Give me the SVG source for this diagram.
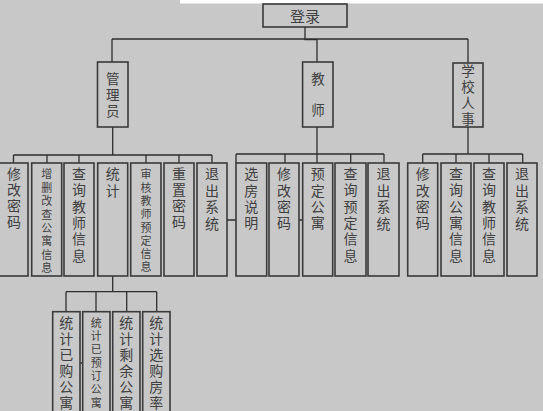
<svg xmlns="http://www.w3.org/2000/svg" width="543" height="411" viewBox="0 0 543 411">
<style>
.bg{fill:#c8c8c8}
.box{fill:#c8c8c8;stroke:#3a3a3a;stroke-width:1.6}
.ln{fill:none;stroke:#2e2e2e;stroke-width:1.3}
text{font-family:"Noto Sans CJK SC","Noto Sans CJK JP",sans-serif;fill:#404040;text-anchor:middle;dominant-baseline:central}
.f14{font-size:13.5px}
.f15{font-size:14px}
.f12{font-size:11px}
</style>
<rect class="bg" x="0" y="0" width="543" height="411"/>
<rect x="180" y="0" width="363" height="3.5" fill="#ffffff"/>
<g id="connectors">
<path class="ln" d="M305 27 V39.5 H317 M112 39 H468 M112 39 V62 M317 39 V62 M468 39 V63"/>
<path class="ln" d="M112.7 127 V155 M13.5 155 H212 M13.5 155 V163 M47 155 V163 M79 155 V163 M146 155 V163 M179 155 V163 M212 155 V163"/>
<path class="ln" d="M317 127 V154 M236 154 H384 M236 154 V163 M285 154 V163 M317 154 V163 M350.7 154 V163 M384 154 V163"/>
<path class="ln" d="M468 127 V154 M422.7 154 H522.7 M422.7 154 V163 M456 154 V163 M489 154 V163 M522.7 154 V163"/>
<path class="ln" d="M227 220 H237 M299 220 H303"/>
<path class="ln" d="M112.7 276 V291.7 M66 291.7 H156.7 M66 291.7 V311.7 M96 291.7 V311.7 M126.7 291.7 V311.7 M156.7 291.7 V311.7 M80 363 H83"/>
</g>
<g id="login"><rect class="box" x="263" y="4" width="84" height="23"/><text class="f15" style="font-size:15px" x="305" y="15.5">登录</text></g>
<g id="admin"><rect class="box" x="97.5" y="62" width="30.5" height="65"/><text class="f14"><tspan x="112.8" y="78">管</tspan><tspan x="112.8" y="94">理</tspan><tspan x="112.8" y="109.5">员</tspan></text></g>
<g id="teacher"><rect class="box" x="302.6" y="62" width="30.4" height="65"/><text class="f14"><tspan x="318" y="78">教</tspan><tspan x="318" y="109">师</tspan></text></g>
<g id="school"><rect class="box" x="453" y="63" width="30" height="64"/><text class="f14"><tspan x="468" y="70">学</tspan><tspan x="468" y="86">校</tspan><tspan x="468" y="102">人</tspan><tspan x="468" y="117.5">事</tspan></text></g>

<g id="a1"><rect class="box" x="-1" y="163" width="29" height="113"/><text class="f15"><tspan x="14" y="173">修</tspan><tspan x="14" y="189">改</tspan><tspan x="14" y="205">密</tspan><tspan x="14" y="221">码</tspan></text></g>
<g id="a2"><rect class="box" x="31.7" y="163" width="30" height="113"/><text class="f12"><tspan x="46.7" y="173.3">增</tspan><tspan x="46.7" y="186.7">删</tspan><tspan x="46.7" y="200.1">改</tspan><tspan x="46.7" y="213.5">查</tspan><tspan x="46.7" y="226.9">公</tspan><tspan x="46.7" y="240.3">寓</tspan><tspan x="46.7" y="253.7">信</tspan><tspan x="46.7" y="267">息</tspan></text></g>
<g id="a3"><rect class="box" x="64" y="163" width="30" height="113"/><text class="f15"><tspan x="79" y="173">查</tspan><tspan x="79" y="189.3">询</tspan><tspan x="79" y="205.6">教</tspan><tspan x="79" y="221.9">师</tspan><tspan x="79" y="238.2">信</tspan><tspan x="79" y="254.5">息</tspan></text></g>
<g id="a4"><rect class="box" x="97.7" y="163" width="30" height="113"/><text class="f15"><tspan x="112.7" y="173">统</tspan><tspan x="112.7" y="190">计</tspan></text></g>
<g id="a5"><rect class="box" x="130.7" y="163" width="30.3" height="113"/><text class="f12"><tspan x="146" y="173.3">审</tspan><tspan x="146" y="186.6">核</tspan><tspan x="146" y="199.9">教</tspan><tspan x="146" y="213.2">师</tspan><tspan x="146" y="226.5">预</tspan><tspan x="146" y="239.8">定</tspan><tspan x="146" y="253.1">信</tspan><tspan x="146" y="266.4">息</tspan></text></g>
<g id="a6"><rect class="box" x="164" y="163" width="30" height="113"/><text class="f15"><tspan x="179" y="173">重</tspan><tspan x="179" y="189">置</tspan><tspan x="179" y="205">密</tspan><tspan x="179" y="221">码</tspan></text></g>
<g id="a7"><rect class="box" x="197" y="163" width="30" height="113"/><text class="f15"><tspan x="212" y="173">退</tspan><tspan x="212" y="189.5">出</tspan><tspan x="212" y="206">系</tspan><tspan x="212" y="222.5">统</tspan></text></g>

<g id="t1"><rect class="box" x="236" y="163" width="30.7" height="113"/><text class="f15"><tspan x="251.3" y="173">选</tspan><tspan x="251.3" y="189.5">房</tspan><tspan x="251.3" y="206">说</tspan><tspan x="251.3" y="222">明</tspan></text></g>
<g id="t2"><rect class="box" x="269" y="163" width="30" height="113"/><text class="f15"><tspan x="284" y="173">修</tspan><tspan x="284" y="189.5">改</tspan><tspan x="284" y="206">密</tspan><tspan x="284" y="222">码</tspan></text></g>
<g id="t3"><rect class="box" x="302.7" y="163" width="30" height="113"/><text class="f15"><tspan x="317.7" y="173">预</tspan><tspan x="317.7" y="189.5">定</tspan><tspan x="317.7" y="206">公</tspan><tspan x="317.7" y="222">寓</tspan></text></g>
<g id="t4"><rect class="box" x="335" y="163" width="31" height="113"/><text class="f15"><tspan x="350.5" y="173">查</tspan><tspan x="350.5" y="189.3">询</tspan><tspan x="350.5" y="205.6">预</tspan><tspan x="350.5" y="221.9">定</tspan><tspan x="350.5" y="238.2">信</tspan><tspan x="350.5" y="254.5">息</tspan></text></g>
<g id="t5"><rect class="box" x="368" y="163" width="31" height="113"/><text class="f15"><tspan x="383.5" y="173">退</tspan><tspan x="383.5" y="189.5">出</tspan><tspan x="383.5" y="206">系</tspan><tspan x="383.5" y="222.5">统</tspan></text></g>

<g id="s1"><rect class="box" x="407.7" y="163" width="30" height="113"/><text class="f15"><tspan x="422.7" y="173">修</tspan><tspan x="422.7" y="189.5">改</tspan><tspan x="422.7" y="206">密</tspan><tspan x="422.7" y="222">码</tspan></text></g>
<g id="s2"><rect class="box" x="441" y="163" width="30" height="113"/><text class="f15"><tspan x="456" y="173">查</tspan><tspan x="456" y="189.3">询</tspan><tspan x="456" y="205.6">公</tspan><tspan x="456" y="221.9">寓</tspan><tspan x="456" y="238.2">信</tspan><tspan x="456" y="254.5">息</tspan></text></g>
<g id="s3"><rect class="box" x="474" y="163" width="30" height="113"/><text class="f15"><tspan x="489" y="173">查</tspan><tspan x="489" y="189.3">询</tspan><tspan x="489" y="205.6">教</tspan><tspan x="489" y="221.9">师</tspan><tspan x="489" y="238.2">信</tspan><tspan x="489" y="254.5">息</tspan></text></g>
<g id="s4"><rect class="box" x="507" y="163" width="30" height="113"/><text class="f15"><tspan x="522" y="173">退</tspan><tspan x="522" y="189.5">出</tspan><tspan x="522" y="206">系</tspan><tspan x="522" y="222.5">统</tspan></text></g>

<g id="b1"><rect class="box" x="52.7" y="311.7" width="27.3" height="110"/><text class="f15"><tspan x="66.3" y="321.7">统</tspan><tspan x="66.3" y="337.8">计</tspan><tspan x="66.3" y="353.9">已</tspan><tspan x="66.3" y="370">购</tspan><tspan x="66.3" y="386.1">公</tspan><tspan x="66.3" y="402.2">寓</tspan></text></g>
<g id="b2"><rect class="box" x="82.7" y="311.7" width="27.3" height="110"/><text class="f12"><tspan x="96.3" y="321.7">统</tspan><tspan x="96.3" y="335">计</tspan><tspan x="96.3" y="348.3">已</tspan><tspan x="96.3" y="361.6">预</tspan><tspan x="96.3" y="374.9">订</tspan><tspan x="96.3" y="388.2">公</tspan><tspan x="96.3" y="401.5">寓</tspan></text></g>
<g id="b3"><rect class="box" x="112.7" y="311.7" width="27.3" height="110"/><text class="f15"><tspan x="126.3" y="321.7">统</tspan><tspan x="126.3" y="337.8">计</tspan><tspan x="126.3" y="353.9">剩</tspan><tspan x="126.3" y="370">余</tspan><tspan x="126.3" y="386.1">公</tspan><tspan x="126.3" y="402.2">寓</tspan></text></g>
<g id="b4"><rect class="box" x="142.7" y="311.7" width="27.3" height="110"/><text class="f15"><tspan x="156.3" y="321.7">统</tspan><tspan x="156.3" y="337.8">计</tspan><tspan x="156.3" y="353.9">选</tspan><tspan x="156.3" y="370">购</tspan><tspan x="156.3" y="386.1">房</tspan><tspan x="156.3" y="402.2">率</tspan></text></g>
</svg>
